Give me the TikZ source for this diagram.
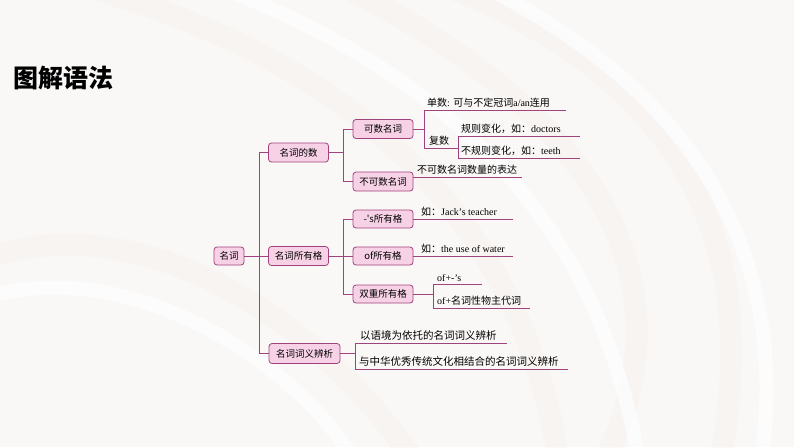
\documentclass[tikz,border=0pt]{standalone}
\usepackage{fontspec}
\setmainfont{Liberation Serif}
\newfontfamily\cjk{Noto Sans CJK SC}
\definecolor{bgc}{RGB}{250,248,246}
\definecolor{swirl}{RGB}{244,241,238}
\definecolor{plum}{RGB}{160,66,124}
\definecolor{boxfill}{RGB}{247,210,231}
\begin{document}
\begin{tikzpicture}[x=1pt,y=-1pt,
  bx/.style={draw=plum,fill=boxfill,rounded corners=3pt,line width=0.8pt,
    minimum height=19pt,inner xsep=3pt,inner ysep=0pt,font=\cjk\fontsize{9.5}{11}\selectfont},
  lv/.style={bx,minimum width=60pt},
  ln/.style={draw=plum,line width=0.8pt},
  lf/.style={anchor=south west,inner sep=1pt,font=\fontsize{10}{12}\selectfont},
  lfb/.style={anchor=south west,inner sep=1pt,font=\cjk\fontsize{10.5}{12}\selectfont}]
\useasboundingbox (0,0) rectangle (794,447);
\fill[bgc] (0,0) rectangle (794,447);
% faint background swirls
\begin{scope}[line width=22pt,draw=swirl,opacity=0.45]
\draw (430,-20) .. controls (700,80) and (760,260) .. (720,460);
\draw (330,-20) .. controls (620,120) and (690,300) .. (600,470);
\draw (-20,260) .. controls (150,200) and (330,330) .. (420,470);
\draw (60,-20) .. controls (300,40) and (520,180) .. (560,470);
\end{scope}
\begin{scope}[line width=14pt,draw=white,opacity=0.7]
\draw (470,-20) .. controls (720,100) and (790,280) .. (760,470);
\draw (-20,300) .. controls (120,250) and (300,360) .. (360,470);
\draw (200,-20) .. controls (420,60) and (600,200) .. (640,470);
\end{scope}
% title
\node[anchor=west,inner sep=0pt,font=\cjk\bfseries\fontsize{25}{28}\selectfont] (title) at (13,78) {图解语法};
% boxes
\node[bx,minimum width=30pt,minimum height=18pt] (root) at (229,256) {名词};
\node[lv] (n1) at (298.5,152.5) {名词的数};
\node[lv] (n2) at (298.5,256) {名词所有格};
\node[bx,minimum width=71pt,minimum height=20pt] (n3) at (304.5,353.5) {名词词义辨析};
\node[lv] (c1) at (383,129) {可数名词};
\node[lv] (c2) at (383,181.5) {不可数名词};
\node[lv,minimum height=18pt] (p1) at (383,219) {-'s所有格};
\node[lv,minimum height=18pt] (p2) at (383,256) {of所有格};
\node[lv,minimum height=18pt] (p3) at (383,294) {双重所有格};
% junction coordinates
\coordinate (a1) at (259,152.5);
\coordinate (a3) at (259,353.5);
\coordinate (b1) at (343,129);
\coordinate (b2) at (343,181.5);
\coordinate (d1) at (424,110);
\coordinate (d2) at (424,148);
\coordinate (f1) at (458,136);
\coordinate (f2) at (458,158);
\coordinate (g1) at (433,284);
\coordinate (g2) at (433,308);
\coordinate (h1) at (355,343);
\coordinate (h2) at (355,369);
\coordinate (e1) at (566,110);
\coordinate (e2) at (580,136);
\coordinate (e3) at (580,158);
\coordinate (e4) at (522,177.5);
\coordinate (e5) at (513,219);
\coordinate (e6) at (513,256.5);
\coordinate (e7) at (482,284);
\coordinate (e8) at (530,308);
\coordinate (e9) at (507,343);
\coordinate (e10) at (568,369);
% connectors level 0-1
\draw[ln] (root) -- (n2);
\draw[ln] (n1.west) -- (a1) -- (a3) -- (n3.west);
% level 1-2
\draw[ln] (n1.east) -- (n1.east -| b1);
\draw[ln] (c1.west) -- (b1) -- (b2) -- (c2.west);
\draw[ln] (n2) -- (p2);
\draw[ln] (p1.west) -- (p1.west -| b1) -- (p3.west -| b1) -- (p3.west);
% countable
\draw[ln] (c1.east) -- (c1.east -| d1);
\draw[ln] (e1) -- (d1) -- (d2) -- (d2 -| f1);
\draw[ln] (e2) -- (f1) -- (f2) -- (e3);
\node[lf] (l1) at (426,108.5) {{\cjk 单数}: {\cjk 可与不定冠词}a/an{\cjk 连用}};
\node[lf] (l2) at (428,147) {\cjk 复数};
\node[lf] (l3) at (460,134.5) {{\cjk 规则变化，如：}doctors};
\node[lf] (l4) at (460,156.5) {{\cjk 不规则变化，如：}teeth};
% uncountable
\draw[ln] (c2.east |- e4) -- (e4);
\node[lf] (l5) at (416,176) {\cjk 不可数名词数量的表达};
% possessive
\draw[ln] (p1.east) -- (e5);
\node[lf] (l6) at (420,217.5) {{\cjk 如：}Jack's teacher};
\draw[ln] (p2.east |- e6) -- (e6);
\node[lf] (l7) at (420,255) {{\cjk 如：}the use of water};
\draw[ln] (p3.east) -- (p3.east -| g1);
\draw[ln] (e7) -- (g1) -- (g2) -- (e8);
\node[lf] (l8) at (436,282.5) {of+-'s};
\node[lf] (l9) at (436,306.5) {of+{\cjk 名词性物主代词}};
% meaning
\draw[ln] (n3.east) -- (n3.east -| h1);
\draw[ln] (e9) -- (h1) -- (h2) -- (e10);
\node[lfb] (l10) at (359,341.5) {以语境为依托的名词词义辨析};
\node[lfb] (l11) at (358,367.5) {与中华优秀传统文化相结合的名词词义辨析};
\end{tikzpicture}
\end{document}
